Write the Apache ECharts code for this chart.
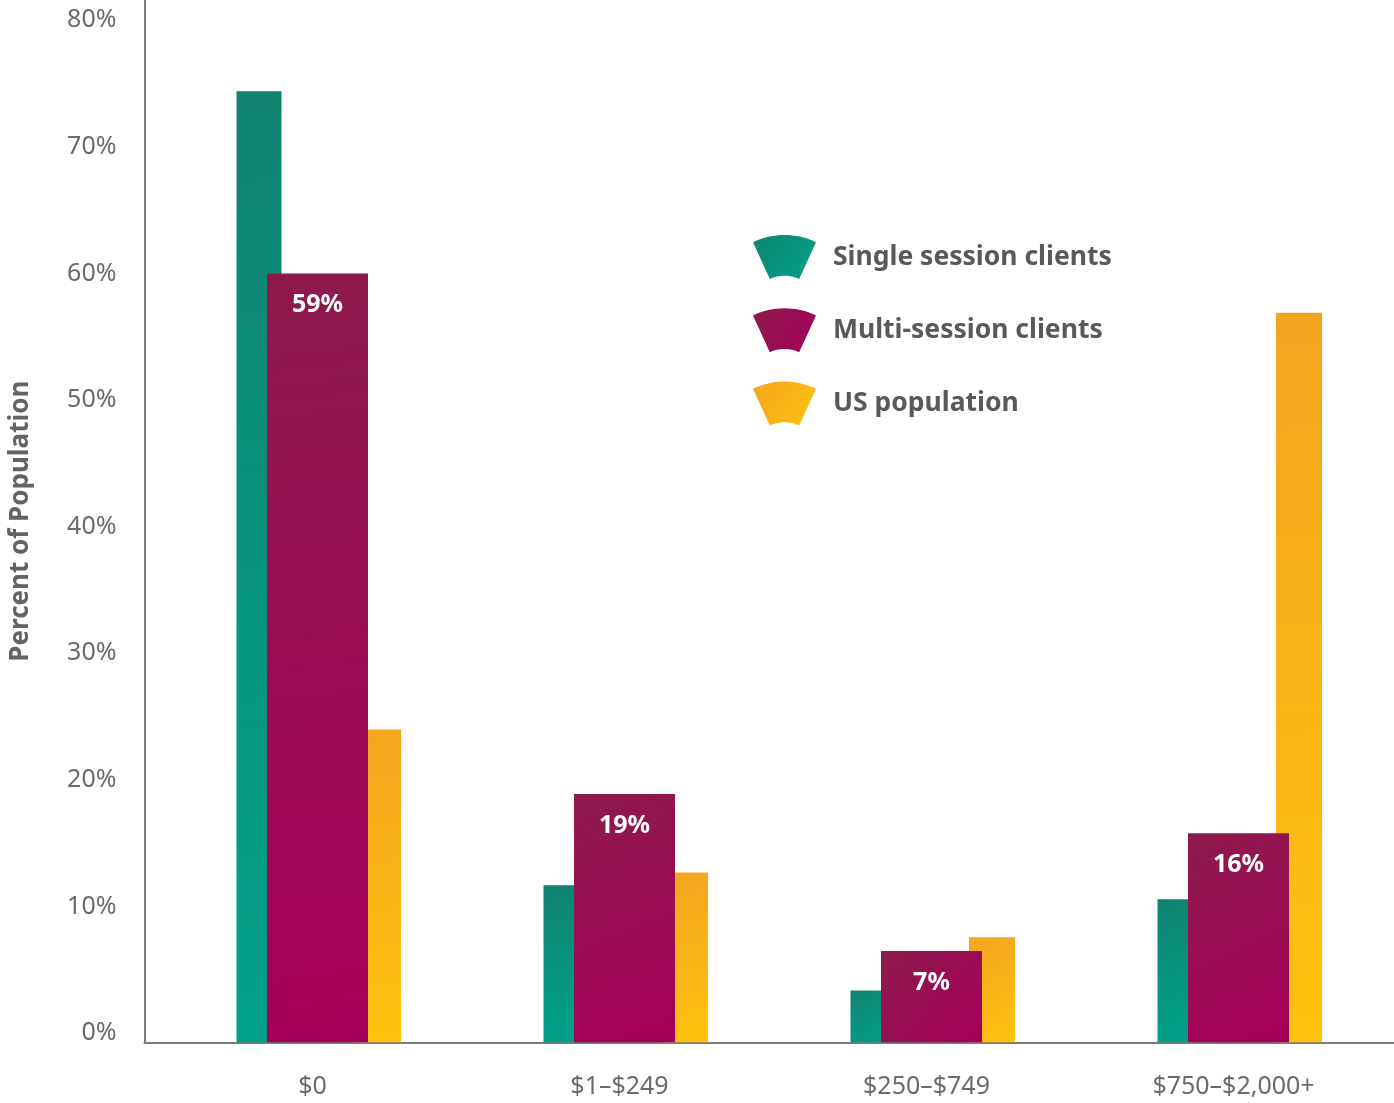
<!DOCTYPE html>
<html>
<head>
<meta charset="utf-8">
<script src="https://cdn.jsdelivr.net/npm/echarts@6/dist/echarts.min.js"></script>
<style>html,body{margin:0;padding:0;background:#fff}#c{width:1394px;height:1103px}</style>
</head>
<body>
<div id="c"></div>
<script>
// ---- data ----
const categories = ['$0', '$1–$249', '$250–$749', '$750–$2,000+'];
const seriesNames = ['Single session clients', 'Multi-session clients', 'US population'];
const singleSession = [75.1, 12.4, 4.1, 11.3];
const multiSession = [60.7, 19.6, 7.2, 16.5];
const usPopulation = [24.7, 13.4, 8.3, 57.6];
const multiLabels = ['59%', '19%', '7%', '16%'];
const yTicks = [0, 10, 20, 30, 40, 50, 60, 70, 80];

// ---- layout / style ----
const Y_MAX = 82.3;
const GRID_TOP = 0, GRID_BOTTOM = 60.7;
const CAT_W = 1228, MAIN_LEFT = 164;
const FONT = '"Noto Sans", sans-serif';

// legend icon: annular sector (fan segment) built as a polygon path
function fanPath() {
  const cx = 40, cy = 90, R = 75, r = 35, a = 25 * Math.PI / 180, n = 16;
  const pts = [];
  for (let i = 0; i <= n; i++) {
    const t = -a + (2 * a) * i / n;
    pts.push([cx + R * Math.sin(t), cy - R * Math.cos(t)]);
  }
  for (let i = n; i >= 0; i--) {
    const t = -a + (2 * a) * i / n;
    pts.push([cx + r * Math.sin(t), cy - r * Math.cos(t)]);
  }
  return 'path://M' + pts.map(p => p[0].toFixed(2) + ' ' + p[1].toFixed(2)).join(' L') + ' Z';
}
const iconPath = fanPath();

function grad(c1, c2) {
  return new echarts.graphic.LinearGradient(0, 0, 1, 1, [
    { offset: 0, color: c1 }, { offset: 1, color: c2 }
  ]);
}
const greenFill = grad('#10836f', '#00a389');
const magentaFill = grad('#8d1a4c', '#a6005a');
const yellowFill = grad('#f4a51f', '#ffc20e');

function hiddenY(gi) {
  return { type: 'value', gridIndex: gi, min: 0, max: Y_MAX, interval: 10, show: false };
}
function hiddenX(gi) {
  return { type: 'category', gridIndex: gi, data: categories, show: false };
}

const chart = echarts.init(document.getElementById('c'), null, { renderer: 'canvas' });
chart.setOption({
  backgroundColor: '#ffffff',
  animation: false,
  textStyle: { fontFamily: FONT },
  grid: [
    { left: 144.5, right: 0, top: GRID_TOP, bottom: GRID_BOTTOM, outerBoundsMode: 'none' },
    { left: MAIN_LEFT - 58.5, width: CAT_W, top: GRID_TOP, bottom: GRID_BOTTOM, outerBoundsMode: 'none' },
    { left: MAIN_LEFT, width: CAT_W, top: GRID_TOP, bottom: GRID_BOTTOM, outerBoundsMode: 'none' },
    { left: MAIN_LEFT + 60.5, width: CAT_W, top: GRID_TOP, bottom: GRID_BOTTOM, outerBoundsMode: 'none' }
  ],
  xAxis: [
    { type: 'value', gridIndex: 0, min: 0, max: 1,
      axisLine: { show: true, lineStyle: { color: '#7a7a7a', width: 2 } },
      axisTick: { show: false }, axisLabel: { show: false }, splitLine: { show: false } },
    hiddenX(1),
    { type: 'category', gridIndex: 2, data: categories,
      axisLine: { show: false }, axisTick: { show: false }, splitLine: { show: false },
      axisLabel: { show: true, color: '#6b6b6b', fontSize: 25, fontFamily: FONT,
        margin: 32, padding: [0, 10, 0, 0] } },
    hiddenX(3)
  ],
  yAxis: [
    { type: 'value', gridIndex: 0, min: 0, max: Y_MAX, interval: 10,
      name: 'Percent of Population', nameLocation: 'middle', nameRotate: 90, nameGap: 111,
      nameTextStyle: { color: '#636363', fontSize: 26, fontWeight: 'bold', fontFamily: FONT },
      axisLine: { show: true, lineStyle: { color: '#7a7a7a', width: 2 } },
      axisTick: { show: false }, splitLine: { show: false },
      axisLabel: { color: '#6b6b6b', fontSize: 25, fontFamily: FONT, margin: 28,
        verticalAlign: 'bottom', lineHeight: 18, showMaxLabel: false,
        formatter: function (v) { return yTicks.indexOf(Math.round(v * 1000) / 1000) >= 0 ? v + '%' : ''; } } },
    hiddenY(1), hiddenY(2), hiddenY(3)
  ],
  legend: {
    orient: 'vertical', left: 753, top: 235, padding: 0,
    itemWidth: 63, itemHeight: 44, itemGap: 29.3, symbolKeepAspect: false,
    data: seriesNames.map(n => ({ name: n, icon: iconPath })),
    textStyle: { color: '#595959', fontSize: 26.5, fontWeight: 'bold', fontFamily: FONT, padding: [0, 0, 0, 12] },
    selectedMode: false
  },
  series: [
    { name: seriesNames[0], type: 'bar', xAxisIndex: 1, yAxisIndex: 1, data: singleSession,
      barWidth: 45, itemStyle: { color: greenFill }, z: 2 },
    { name: seriesNames[2], type: 'bar', xAxisIndex: 3, yAxisIndex: 3, data: usPopulation,
      barWidth: 46, itemStyle: { color: yellowFill }, z: 2 },
    { name: seriesNames[1], type: 'bar', xAxisIndex: 2, yAxisIndex: 2, data: multiSession,
      barWidth: 101, itemStyle: { color: magentaFill }, z: 3,
      label: { show: true, position: 'insideTop', distance: 19, color: '#ffffff',
        fontSize: 25, fontWeight: 'bold', fontFamily: FONT,
        formatter: function (p) { return multiLabels[p.dataIndex]; } } }
  ]
});
</script>
</body>
</html>
